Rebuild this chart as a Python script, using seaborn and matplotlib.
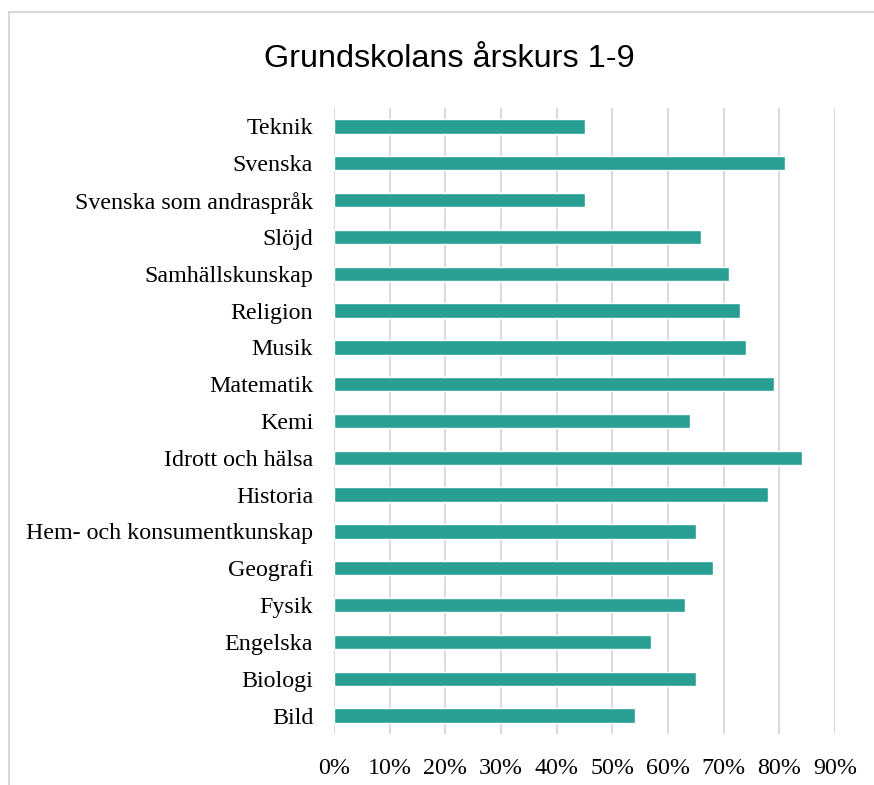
import matplotlib
matplotlib.use("Agg")
import matplotlib.pyplot as plt
import seaborn as sns
import pandas as pd
from matplotlib.lines import Line2D

# Data (top to bottom as shown)
subjects = [
    "Teknik", "Svenska", "Svenska som andraspråk", "Slöjd", "Samhällskunskap",
    "Religion", "Musik", "Matematik", "Kemi", "Idrott och hälsa", "Historia",
    "Hem- och konsumentkunskap", "Geografi", "Fysik", "Engelska", "Biologi", "Bild",
]
shares = [0.45, 0.81, 0.45, 0.66, 0.71, 0.73, 0.74, 0.79, 0.64, 0.84, 0.78,
          0.65, 0.68, 0.63, 0.57, 0.65, 0.54]
x_ticks = [0.0, 0.1, 0.2, 0.3, 0.4, 0.5, 0.6, 0.7, 0.8, 0.9]
x_tick_labels = ["0%", "10%", "20%", "30%", "40%", "50%", "60%", "70%", "80%", "90%"]
title = "Grundskolans årskurs 1-9"

sns.set_theme(style="white")
plt.rcParams["font.family"] = ["Liberation Serif", "DejaVu Serif"]

W, H = 874, 785
fig = plt.figure(figsize=(W / 100, H / 100), dpi=100)
fig.patch.set_facecolor("white")

left, right, top, bottom = 334, 835, 108, 734
ax = fig.add_axes([left / W, 1 - bottom / H, (right - left) / W, (bottom - top) / H])

df = pd.DataFrame({"Ämne": subjects, "Andel": shares})
sns.barplot(data=df, x="Andel", y="Ämne", order=subjects, orient="h",
            color="#299E93", saturation=1, width=0.39, ax=ax)

ax.set_xlim(0, 0.9)
ax.set_ylim(len(subjects) - 0.5, -0.5)
ax.set_xticks(x_ticks)
ax.set_xticklabels(x_tick_labels)
ax.grid(axis="x", color="#d9d9d9", linewidth=1.4)
ax.grid(axis="y", visible=False)
ax.set_axisbelow(True)
for s in ax.spines.values():
    s.set_visible(False)
ax.tick_params(axis="y", length=0, labelsize=17.3, pad=15, colors="black")
ax.tick_params(axis="x", length=0, labelsize=17.3, pad=17, colors="black")
for lab in ax.get_xticklabels() + ax.get_yticklabels():
    lab.set_family(["Liberation Serif", "DejaVu Serif"])
ax.set_xlabel("")
ax.set_ylabel("")

fig.text(449 / W, 1 - 59 / H, title, ha="center", va="center",
         fontsize=23.3, family=["Liberation Sans", "DejaVu Sans"], color="black")

# light frame of the chart area
fx, fy = 9 / W, 1 - 11.7 / H
fig.add_artist(Line2D([fx, fx], [0, fy], transform=fig.transFigure,
                      color="#d9d9d9", linewidth=1.5))
fig.add_artist(Line2D([fx, 1], [fy, fy], transform=fig.transFigure,
                      color="#d9d9d9", linewidth=1.5))

fig.savefig("out.png", dpi=100, facecolor="white")
